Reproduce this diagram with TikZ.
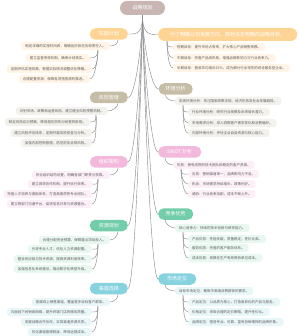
\documentclass[tikz,border=0pt]{standalone}
\usepackage{fontspec}
\setmainfont{Noto Sans CJK SC}
\definecolor{rootc}{HTML}{C9B6B2}
\definecolor{orng}{HTML}{FDD494}
\definecolor{orngl}{HTML}{FFF4E6}
\definecolor{sand}{HTML}{C6BDA6}
\definecolor{sandl}{HTML}{F3F1EC}
\definecolor{pnk}{HTML}{F3B9DD}
\definecolor{pnkl}{HTML}{FDEFF7}
\definecolor{grn}{HTML}{72CDA9}
\definecolor{grnl}{HTML}{E9F7F1}
\definecolor{cyn}{HTML}{86D2DE}
\definecolor{cynl}{HTML}{E9F6F8}
\definecolor{lnc}{HTML}{8C8C8C}
\definecolor{txc}{HTML}{5E5E5E}
\begin{document}
\begin{tikzpicture}[x=1pt,y=-1pt,
        rootnode/.style={fill=rootc,text=white,rounded corners=7pt,minimum height=14pt,inner xsep=12.5pt,inner ysep=0pt,font=\fontsize{5}{6}\selectfont},
        topic/.style={fill=#1,text=white,rounded corners=5.5pt,minimum height=11.5pt,inner xsep=9pt,inner ysep=0pt,font=\fontsize{5}{6}\selectfont},
        sub/.style={fill=#1,text=txc,rounded corners=3pt,minimum height=8pt,inner xsep=4pt,inner ysep=0pt,font=\fontsize{3.5}{4}\selectfont},
        con/.style={draw=lnc,line width=0.45pt},
        ]
        \useasboundingbox (0,0) rectangle (300,336);
        \node[rootnode] (root) at (142.5,8) {战略规划};
        % left side
        \node[topic=orng,anchor=east] (l1) at (128,34) {实施计划};
        \node[sub=orngl,anchor=east] (l1a) at (110,46) {制定详细的实施时间表，明确各阶段任务和责任人。};
        \node[sub=orngl,anchor=east] (l1b) at (90,58) {建立监督考核机制，确保计划落实。};
        \node[sub=orngl,anchor=east] (l1c) at (92,69) {定期评估实施效果，根据实际情况调整优化策略。};
        \node[sub=orngl,anchor=east] (l1d) at (90,79) {合理配置资源，保障各项措施顺利推进。};
        \node[topic=sand,anchor=east] (l2) at (128,97.5) {风险管理};
        \node[sub=sandl,anchor=east] (l2a) at (108,111) {识别市场、政策和运营风险，建立健全风险预警机制。};
        \node[sub=sandl,anchor=east] (l2b) at (90,122) {制定风险应对预案，降低潜在损失对经营的影响。};
        \node[sub=sandl,anchor=east] (l2c) at (92,133) {建立风险评估体系，定期开展风险排查与分析。};
        \node[sub=sandl,anchor=east] (l2d) at (92,143) {加强内部控制管理，防范财务合规风险。};
        \node[topic=pnk,anchor=east] (l3) at (128,162) {组织架构};
        \node[sub=pnkl,anchor=east] (l3a) at (110,175) {优化组织结构设置，明确各部门职责与权限。};
        \node[sub=pnkl,anchor=east] (l3b) at (92,184) {建立高效协作机制，提升执行效率。};
        \node[sub=pnkl,anchor=east] (l3c) at (92,194) {完善人才培养与激励体系，打造高素质的专业团队。};
        \node[sub=pnkl,anchor=east] (l3d) at (92,204) {建立跨部门沟通平台，促进信息共享与资源整合。};
        \node[topic=grn,anchor=east] (l4) at (128,225.5) {资源规划};
        \node[sub=grnl,anchor=east] (l4a) at (110,240) {合理分配资金预算，保障重点项目投入。};
        \node[sub=grnl,anchor=east] (l4b) at (92,249) {引进专业人才，优化人力资源配置。};
        \node[sub=grnl,anchor=east] (l4c) at (92,259) {整合供应链与技术资源，提高资源利用效率。};
        \node[sub=grnl,anchor=east] (l4d) at (92,269) {加强信息化系统建设，推动数字化转型升级。};
        \node[topic=cyn,anchor=east] (l5) at (128,288.5) {渠道选择};
        \node[sub=cynl,anchor=east] (l5a) at (110,302) {拓展线上销售渠道，覆盖更多目标客户群体。};
        \node[sub=cynl,anchor=east] (l5b) at (92,312) {巩固线下经销商网络，提升终端门店的服务质量。};
        \node[sub=cynl,anchor=east] (l5c) at (92,322) {发展战略合作伙伴，实现渠道资源共享。};
        \node[sub=cynl,anchor=east] (l5d) at (92,332) {优化渠道管理制度，降低运营成本。};
        % right side
        \node[topic=orng,anchor=west,inner xsep=12pt,minimum height=13pt,rounded corners=6.5pt] (r1) at (158,34.5) {为了明确公司发展方向，规划设定明确的战略目标。};
        \node[sub=orngl,anchor=west] (r1a) at (173,47) {短期目标：提升市场占有率，扩大核心产品销售规模。};
        \node[sub=orngl,anchor=west] (r1b) at (173,58) {中期目标：完善产品线布局，增强品牌影响力与行业竞争力。};
        \node[sub=orngl,anchor=west] (r1c) at (173,68) {长期目标：营收年均增长25\%，成为细分行业领先的综合服务型企业。};
        \node[topic=sand,anchor=west,inner xsep=7pt] (r2) at (158.5,89) {环境分析};
        \node[sub=sandl,anchor=west] (r2a) at (175,101) {宏观环境分析：关注国家政策法规、经济形势及社会发展趋势。};
        \node[sub=sandl,anchor=west] (r2b) at (188,112) {行业环境分析：研究行业规模及未来增长潜力。};
        \node[sub=sandl,anchor=west] (r2c) at (188,123) {市场需求分析：深入洞察客户需求变化和消费偏好。};
        \node[sub=sandl,anchor=west] (r2d) at (188,133) {内部环境分析：评估企业自身资源与核心能力。};
        \node[topic=pnk,anchor=west] (r3) at (158,152) {SWOT 分析};
        \node[sub=pnkl,anchor=west] (r3a) at (173,165) {优势：拥有成熟的技术团队和稳定的客户资源。};
        \node[sub=pnkl,anchor=west] (r3b) at (188,174) {劣势：营销渠道单一，品牌影响力不足。};
        \node[sub=pnkl,anchor=west] (r3c) at (188,184) {机会：市场需求持续增长，政策利好。};
        \node[sub=pnkl,anchor=west] (r3d) at (188,194) {威胁：行业竞争加剧，成本不断上升。};
        \node[topic=grn,anchor=west,inner xsep=7.5pt] (r4) at (158,214) {竞争优势};
        \node[sub=grnl,anchor=west] (r4a) at (175,228) {核心竞争力：持续的技术创新与研发能力。};
        \node[sub=grnl,anchor=west] (r4b) at (188,239) {产品优势：性能优越，质量稳定，性价比高。};
        \node[sub=grnl,anchor=west] (r4c) at (188,248) {服务优势：完善的客户服务体系。};
        \node[sub=grnl,anchor=west] (r4d) at (188,258) {成本优势：规模化生产有效降低单位成本。};
        \node[topic=cyn,anchor=west] (r5) at (158,279) {市场定位};
        \node[sub=cynl,anchor=west] (r5a) at (175,291) {目标市场定位：聚焦中高端消费群体的需求。};
        \node[sub=cynl,anchor=west] (r5b) at (188,302) {产品定位：以品质为核心，打造差异化的产品与服务。};
        \node[sub=cynl,anchor=west] (r5c) at (188,312) {价格定位：采取合理的定价策略，提升性价比。};
        \node[sub=cynl,anchor=west] (r5d) at (188,322) {品牌定位：塑造专业、可靠、富有创新精神的品牌形象。};
        % trunk
        \foreach \t in {l1,l2,l3,l4,l5} \draw[con] (root.south) .. controls +(0,20) and +(8,0) .. (\t.east);
        \foreach \t in {r1,r2,r3,r4,r5} \draw[con] (root.south) .. controls +(0,20) and +(-8,0) .. (\t.west);
        % left leaves
        \foreach \t in {l1,l2,l3,l4,l5} {
            \draw[con] ([xshift=-10pt]\t.south east) .. controls +(0,4) and +(4,0) .. (\t a.east);
            \foreach \s in {b,c,d} \draw[con] ([xshift=-12pt]\t a.south east) .. controls +(0,6) and +(5,0) .. (\t\s.east);
        }
        % right leaves
        \foreach \s in {a,b,c} \draw[con] ([xshift=9pt]r1.south west) .. controls +(0,6) and +(-5,0) .. (r1\s.west);
        \foreach \t in {r2,r3,r4,r5} {
            \draw[con] ([xshift=7pt]\t.south west) .. controls +(0,4) and +(-4,0) .. (\t a.west);
            \foreach \s in {b,c,d} \draw[con] ([xshift=8pt]\t a.south west) .. controls +(0,6) and +(-5,0) .. (\t\s.west);
        }
\end{tikzpicture}
\end{document}
